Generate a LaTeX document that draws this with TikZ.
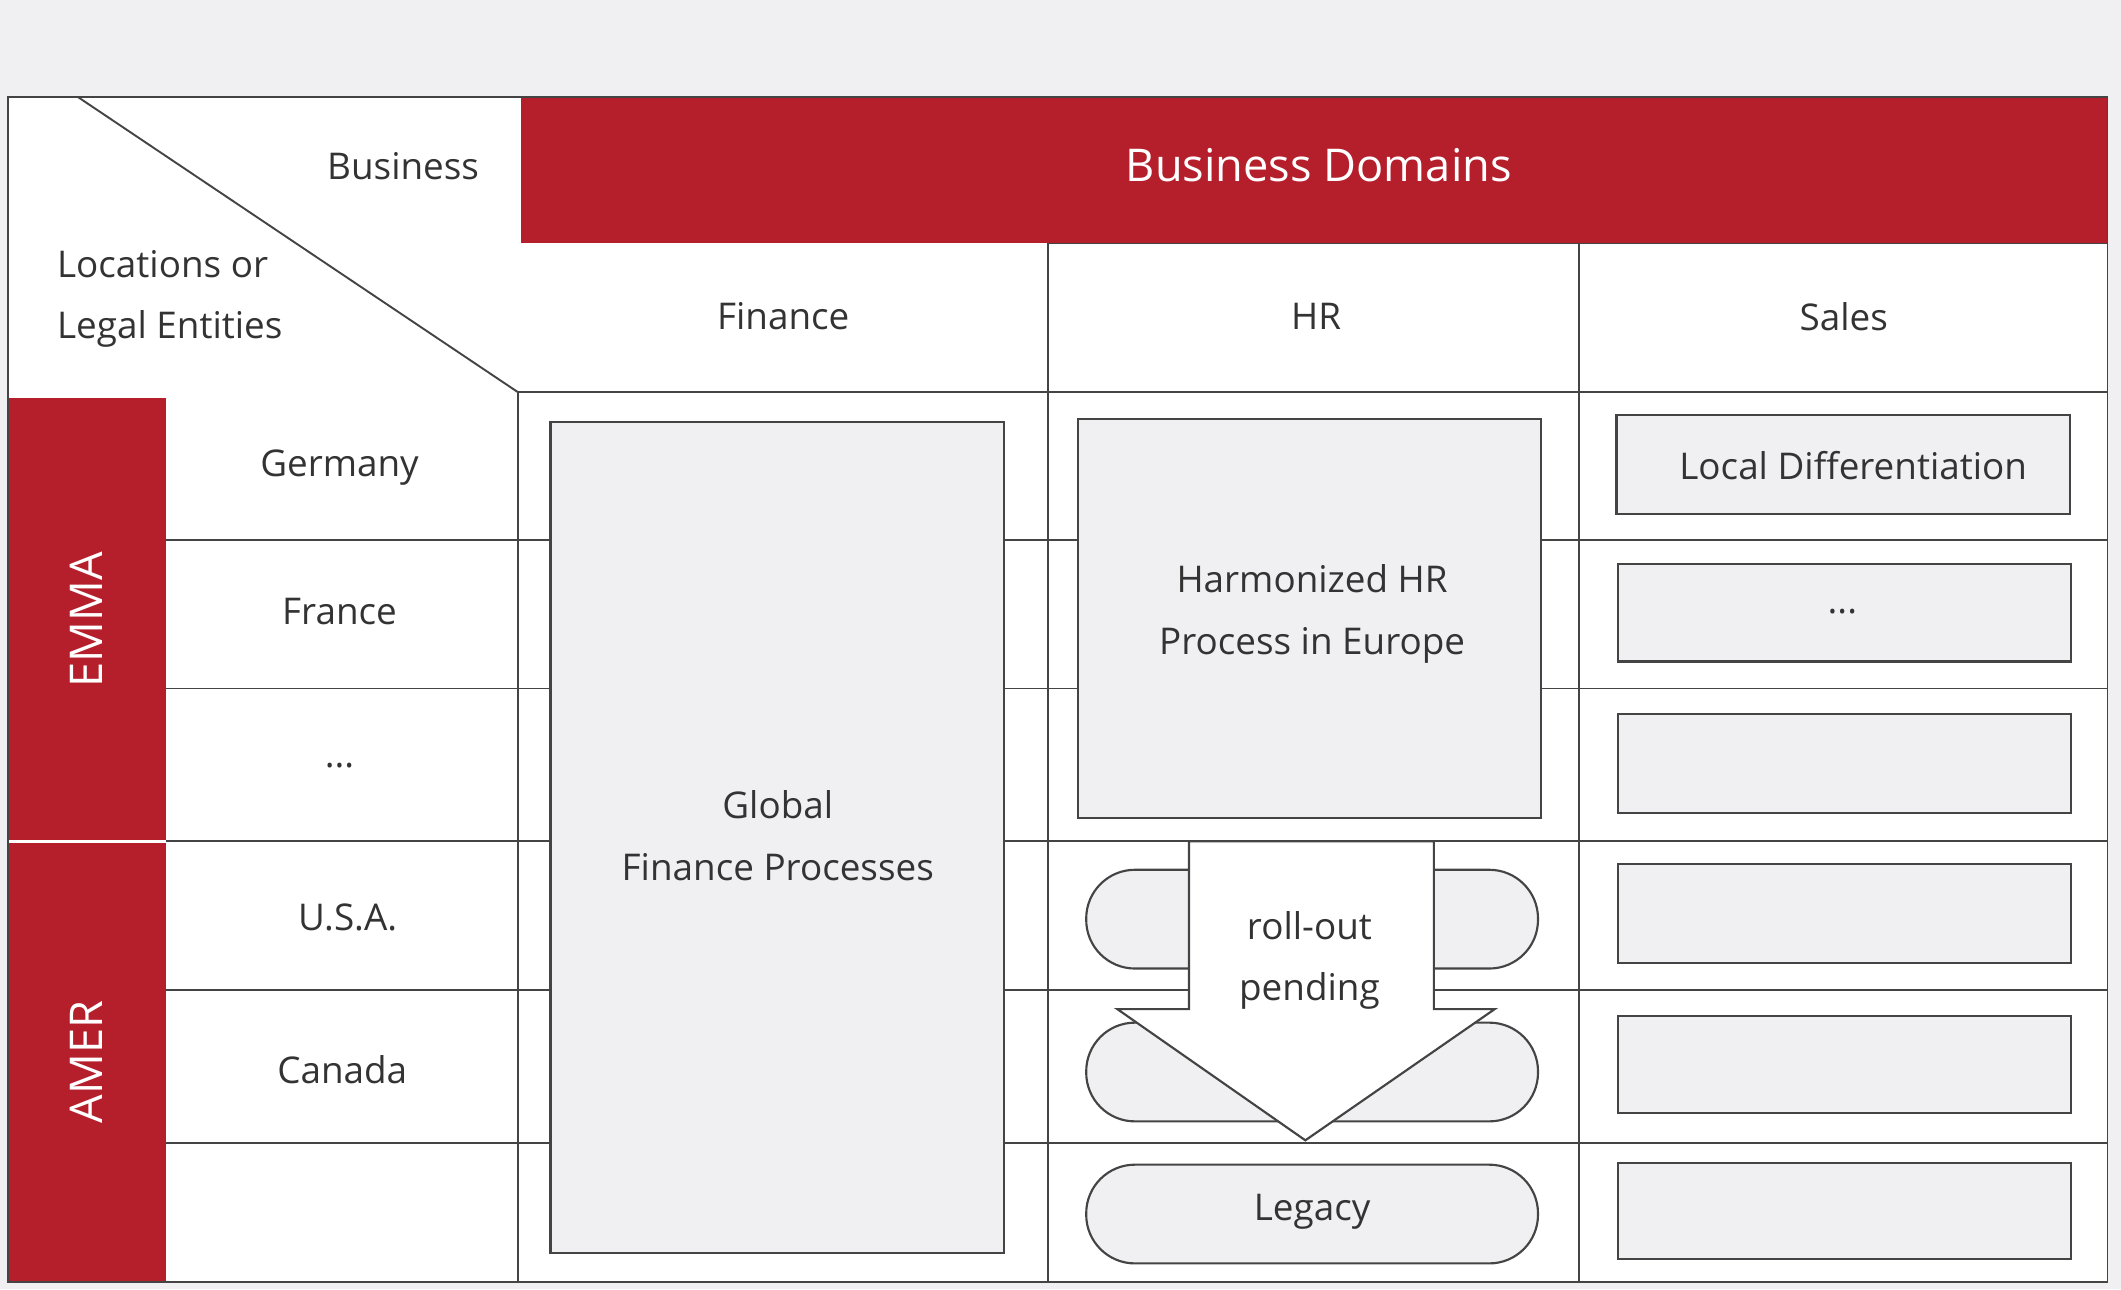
\documentclass[tikz,border=0pt]{standalone}
\usepackage{fontspec}
\setmainfont{Open Sans}
\definecolor{bred}{HTML}{B51F2B}
\definecolor{bg}{HTML}{F0F0F2}
\definecolor{txt}{HTML}{333333}
\definecolor{ln}{HTML}{444444}
\begin{document}
\begin{tikzpicture}[x=0.02cm,y=-0.02cm,
  lbl/.style={text=txt,font=\fontsize{15.5}{26}\selectfont,align=center},
  box/.style={draw=ln,line width=0.9pt,fill=bg},
  pill/.style={draw=ln,line width=0.9pt,fill=bg,rounded corners=0.72cm},
  grid/.style={draw=ln,line width=0.8pt}]
\fill[bg] (0,0) rectangle (1568,953);
\useasboundingbox (0,0) rectangle (1568,953);
\fill[white] (6,72) rectangle (1558,948);
\fill[bred] (385,72) rectangle (1558,180);
\node[text=white,font=\fontsize{19}{24}\selectfont] (bd) at (975,122) {Business Domains};
\fill[bred] (6,294) rectangle (123,948);
\draw[white,line width=1pt] (6,622) -- (123,622);
\node[rotate=90,text=white,font=\fontsize{19}{24}\selectfont] (emma) at (64,458) {EMMA};
\node[rotate=90,text=white,font=\fontsize{19}{24}\selectfont] (amer) at (64,785) {AMER};
% grid
\draw[grid] (58,72) -- (383,290);
\draw[grid] (383,290) -- (1558,290);
\draw[grid] (775,180) -- (1558,180);
\draw[grid] (383,290) -- (383,948);
\draw[grid] (775,180) -- (775,948);
\draw[grid] (1167,180) -- (1167,948);
\foreach \y in {399,509,622,732,845} \draw[grid] (123,\y) -- (1558,\y);
\draw[grid] (6,72) rectangle (1558,948);
% labels
\node[lbl] (bus) at (298,123) {Business};
\node[lbl,align=left,anchor=west] (loc) at (36,221) {Locations or\\Legal Entities};
\node[lbl] (fin) at (579,234) {Finance};
\node[lbl] (hr) at (973,234) {HR};
\node[lbl] (sal) at (1363,234) {Sales};
\node[lbl] (ger) at (251,346) {Germany};
\node[lbl] (fra) at (251,452) {France};
\node[lbl] (dots) at (251,566) {...};
\node[lbl] (usa) at (257,678) {U.S.A.};
\node[lbl] (can) at (253,791) {Canada};
% finance
\draw[box] (407,312) rectangle (742,926);
\node[lbl] (gfp) at (575,618) {Global\\Finance Processes};
% HR
\draw[box] (797,310) rectangle (1139,605);
\node[lbl] (hhr) at (970,454) {Harmonized HR\\Process in Europe};
\draw[pill] (803,643) rectangle (1137,716);
\draw[pill] (803,756) rectangle (1137,829);
\draw[pill] (803,861) rectangle (1137,934);
\node[lbl] (leg) at (970,896) {Legacy};
\draw[ln,line width=0.9pt,fill=white] (879,622) -- (1060,622) -- (1060,746) -- (1105,746) -- (965,843) -- (826,746) -- (879,746) -- cycle;
\node[lbl] (roll) at (968,710) {roll-out\\pending};
% sales
\draw[box] (1195,307) rectangle (1530,380);
\node[lbl] (ld) at (1370,344) {Local Differentiation};
\foreach \a/\b in {417/489,528/601,639/712,751/823,860/931} \draw[box] (1196,\a) rectangle (1531,\b);
\node[lbl] (sd) at (1362,452) {...};
\end{tikzpicture}
\end{document}
